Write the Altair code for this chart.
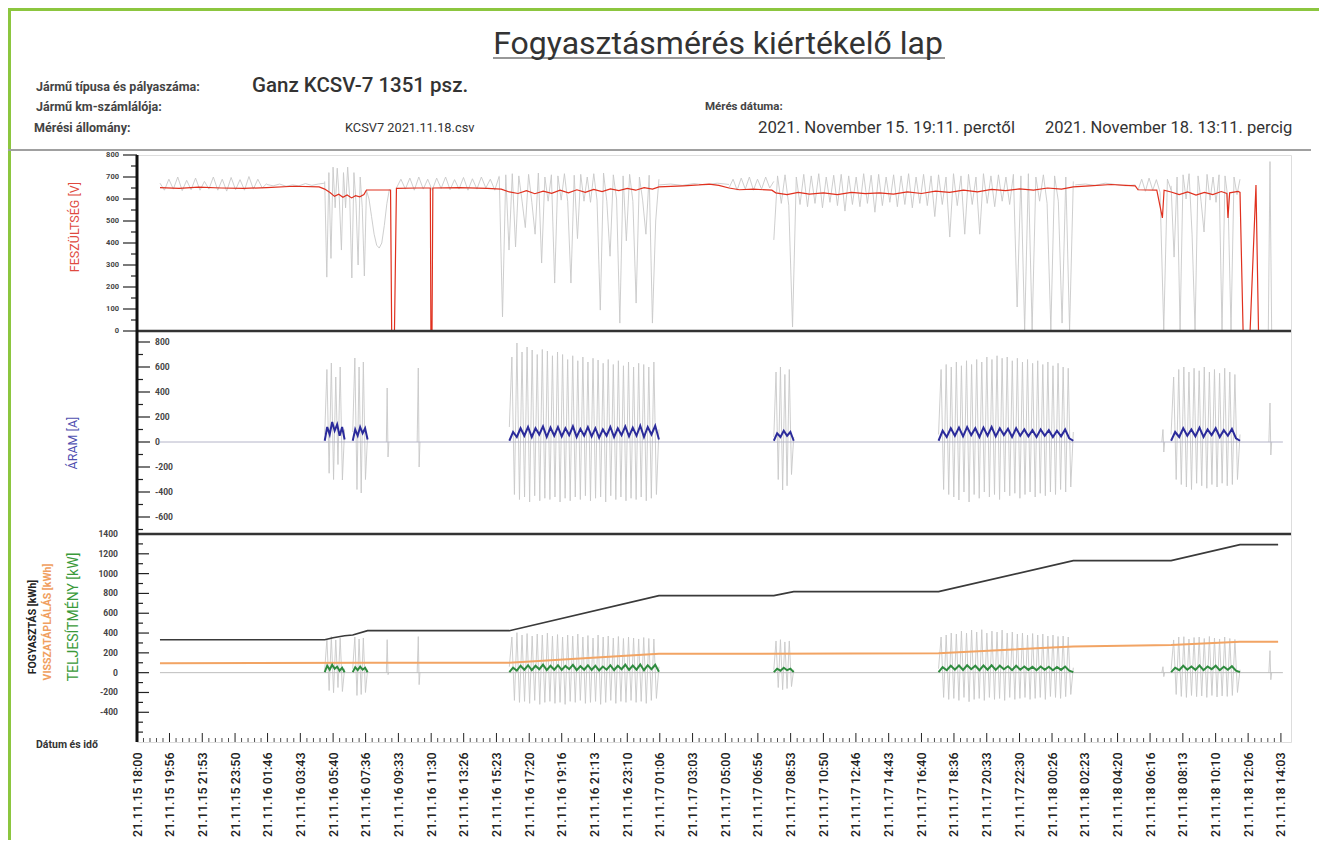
import json
import altair as alt
import numpy as np
import pandas as pd

FONT = "Roboto"
BASE = pd.Timestamp("2021-11-15 18:00")

# ---------------- x axis labels ----------------
X_LABELS = ['21.11.15 18:00', '21.11.15 19:56', '21.11.15 21:53', '21.11.15 23:50',
            '21.11.16 01:46', '21.11.16 03:43', '21.11.16 05:40', '21.11.16 07:36',
            '21.11.16 09:33', '21.11.16 11:30', '21.11.16 13:26', '21.11.16 15:23',
            '21.11.16 17:20', '21.11.16 19:16', '21.11.16 21:13', '21.11.16 23:10',
            '21.11.17 01:06', '21.11.17 03:03', '21.11.17 05:00', '21.11.17 06:56',
            '21.11.17 08:53', '21.11.17 10:50', '21.11.17 12:46', '21.11.17 14:43',
            '21.11.17 16:40', '21.11.17 18:36', '21.11.17 20:33', '21.11.17 22:30',
            '21.11.18 00:26', '21.11.18 02:23', '21.11.18 04:20', '21.11.18 06:16',
            '21.11.18 08:13', '21.11.18 10:10', '21.11.18 12:06', '21.11.18 14:03']
X_TICK_MIN = [int((pd.to_datetime(s, format="%y.%m.%d %H:%M") - BASE).total_seconds() // 60)
              for s in X_LABELS]
X_END = 4119

# ---------------- y tick values ----------------
P1_MAJOR = [0, 100, 200, 300, 400, 500, 600, 700, 800]
P1_MINOR = [50, 150, 250, 350, 450, 550, 650, 750]
P2_MAJOR = [800, 600, 400, 200, 0, -200, -400, -600]
P2_MINOR = [700, 500, 300, 100, -100, -300, -500, -700]
P3_MAJOR = [-400, -200, 0, 200, 400, 600, 800, 1000, 1200, 1400]
P3_MINOR = [-600, -500, -300, -100, 100, 300, 500, 700, 900, 1100, 1300]

# ---------------- voltage (V) ----------------
VOLT_RED_T = [82, 150, 220, 300, 380, 463, 560, 650, 670, 690,
              705, 720, 735, 750, 766, 780, 795, 810, 819, 905,
              909, 919, 926, 1000, 1047, 1049, 1053, 1056, 1150, 1250,
              1300, 1329, 1360, 1390, 1420, 1450, 1480, 1510, 1540, 1570,
              1600, 1630, 1660, 1690, 1720, 1750, 1780, 1810, 1840, 1863,
              1950, 2006, 2042, 2077, 2113, 2150, 2200, 2266, 2280, 2320,
              2360, 2400, 2450, 2500, 2550, 2600, 2650, 2700, 2750, 2800,
              2850, 2900, 2950, 3000, 3050, 3100, 3150, 3200, 3250, 3300,
              3342, 3400, 3477, 3530, 3563, 3573, 3640, 3660, 3666, 3691,
              3720, 3750, 3780, 3810, 3840, 3870, 3890, 3894, 3900, 3930,
              3937, 3948, 3973, 3994, 4003]
VOLT_RED_V = [652, 648, 654, 650, 648, 652, 658, 655, 645, 628,
              612, 622, 608, 618, 605, 615, 610, 620, 641, 641,
              0, 0, 648, 650, 650, 0, 0, 650, 652, 648,
              645, 632, 625, 638, 624, 636, 626, 640, 628, 642,
              630, 644, 634, 646, 638, 648, 640, 652, 645, 655,
              660, 664, 668, 662, 650, 642, 645, 640, 628, 620,
              630, 622, 628, 620, 630, 624, 628, 622, 632, 625,
              636, 630, 640, 632, 644, 638, 646, 640, 650, 645,
              655, 660, 666, 662, 660, 642, 640, 514, 640, 632,
              620, 632, 618, 630, 620, 634, 625, 514, 628, 635,
              630, 0, 0, 664, 0]

VOLT_SEG_START = [82, 463, 670, 819, 926, 1293, 1863, 2113, 2273, 3349, 3573, 3691]
VOLT_SEG_END = [463, 670, 819, 901, 1293, 1863, 2113, 2273, 3342, 3563, 3691, 3937]
VOLT_GRAY_1 = [672, 640, 690, 645, 700, 638, 685, 642, 695, 640, 680, 645, 700, 640, 690, 636,
               698, 642, 688, 640, 702, 645, 690, 650, 670]
VOLT_GRAY_2 = [666, 660, 668, 658, 664, 660, 670, 662, 668, 672]
VOLT_GRAY_A = [680, 245, 720, 330, 745, 560, 740, 600, 368, 720, 560, 745, 600, 241, 720, 580,
               300, 700, 560, 250, 640]
VOLT_GRAY_U = [640, 600, 520, 440, 390, 377, 400, 480, 580, 645]
VOLT_GRAY_3 = [650, 690, 645, 695, 640, 700, 645, 690, 640, 695, 648, 700, 642, 688, 645, 698,
               640, 692, 645, 700, 650, 690, 640, 705]
VOLT_GRAY_B = [700, 64, 710, 368, 715, 382, 705, 590, 470, 712, 585, 440, 718, 309, 700, 590,
               710, 218, 705, 595, 715, 588, 218, 708, 420, 712, 590, 700, 585, 715, 595, 95,
               718, 590, 340, 710, 600, 36, 705, 410, 712, 590, 127, 700, 595, 440, 708, 36,
               500, 690]
VOLT_GRAY_4 = [664, 668, 662, 670, 664, 672, 666]
VOLT_GRAY_5 = [650, 690, 640, 695, 645, 700, 640, 690, 645, 700, 650, 680]
VOLT_GRAY_D = [414, 705, 580, 710, 570, 18, 700, 575, 712, 565, 705, 580, 715, 560, 700, 585,
               708, 570, 712, 545, 705, 575, 700, 565, 715, 580, 708, 540, 712, 570, 700, 585,
               710, 565, 705, 575, 715, 560, 700, 580, 712, 570, 705, 520, 710, 575, 700, 427,
               715, 570, 705, 440, 712, 575, 700, 440, 715, 580, 705, 565, 710, 590, 700, 575,
               712, 109, 705, 5, 715, 5, 700, 590, 710, 580, 5, 705, 590, 36, 700, 5, 680]
VOLT_GRAY_6 = [664, 668, 662, 672, 666, 660, 664]
VOLT_GRAY_7 = [640, 690, 635, 695, 640, 688, 630, 5, 690, 640]
VOLT_GRAY_E = [660, 336, 700, 5, 710, 600, 715, 440, 5, 705, 590, 450, 712, 595, 700, 585,
               710, 5, 705, 600, 5, 700, 620, 690]
VOLT_GRAY_END_T = [4038, 4044, 4050]
VOLT_GRAY_END_V = [0, 770, 0]

# ---------------- current (A) ----------------
ZONE_START = [670, 770, 1329, 2273, 2861, 3691]
ZONE_END = [741, 823, 1863, 2344, 3342, 3937]
CUR_GRAY_A1 = [60, 580, -250, 632, -300, 520, -180, 600, -304, 100]
CUR_GRAY_A2 = [80, 672, -380, 600, -408, 640, -300, 50]
CUR_GRAY_B = [120, 680, -420, 792, -460, 720, -440, 760, -480, 736, -430, 700, -470, 740, -450,
              728, -460, 690, -440, 720, -480, 700, -450, 660, -470, 690, -440, 650, -460, 680,
              -430, 640, -470, 670, -450, 656, -440, 630, -480, 660, -430, 620, -460, 650, -440,
              610, -470, 640, -450, 600, -460, 630, -440, 620, -470, 600, -450, 640, -420, 100]
CUR_GRAY_C = [40, 560, -300, 600, -384, 540, -350, 580, -260, 40]
CUR_GRAY_D = [60, 580, -380, 620, -420, 600, -440, 640, -464, 610, -400, 650, -480, 620, -420,
              660, -450, 640, -400, 680, -440, 660, -420, 690, -460, 670, -400, 680, -430, 650,
              -410, 670, -450, 640, -420, 660, -400, 630, -440, 650, -410, 620, -430, 640, -400,
              610, -420, 630, -380, 600, -400, 590, -360, 80]
CUR_GRAY_E = [60, 520, -300, 580, -340, 600, -360, 560, -380, 590, -330, 570, -350, 600, -370,
              560, -340, 580, -360, 550, -330, 590, -350, 560, -340, 540, -300, 60]
CUR_SPIKE_T = [890, 893, 896, 899, 1000, 1004, 1007, 1010, 3658, 3662, 3665, 3668, 4040, 4044, 4047, 4050]
CUR_SPIKE_V = [0, 432, -120, 0, 0, 592, -200, 0, 0, 100, -80, 0, 0, 312, -104, 0]
CUR_MEAN_A1 = [10, 120, 60, 160, 90, 140, 50, 120, 20]
CUR_MEAN_A2 = [10, 100, 50, 120, 70, 110, 20]
CUR_MEAN_B = [10, 80, 40, 110, 50, 120, 40, 110, 60, 125, 40, 115, 50, 120, 45, 110, 55, 125, 40,
              105, 50, 120, 45, 110, 35, 100, 50, 120, 40, 110, 55, 125, 45, 115, 50, 130, 40, 120,
              60, 130, 20]
CUR_MEAN_C = [10, 70, 40, 90, 50, 80, 10]
CUR_MEAN_D = [10, 90, 40, 110, 50, 115, 45, 120, 55, 110, 40, 115, 50, 120, 45, 110, 55, 105, 40,
              110, 50, 100, 45, 95, 40, 100, 50, 95, 40, 90, 45, 100, 30, 10]
CUR_MEAN_E = [10, 80, 40, 110, 50, 100, 45, 115, 40, 100, 55, 110, 40, 95, 50, 105, 30, 10]
ZERO_T = [82, 4090]

# ---------------- power (kW) / energy (kWh) ----------------
POW_GRAY_A1 = [30, 340, -180, 364, -202, 330, -150, 350, -190, 40]
POW_GRAY_A2 = [40, 360, -230, 340, -220, 350, -200, 30]
POW_GRAY_B = [60, 360, -280, 404, -300, 380, -290, 395, -310, 370, -280, 390, -320, 380, -300,
              400, -290, 370, -310, 385, -300, 360, -320, 380, -290, 370, -300, 390, -280, 360,
              -310, 375, -300, 350, -290, 380, -320, 360, -300, 370, -280, 350, -310, 365, -290,
              345, -300, 360, -280, 350, -300, 340, -290, 355, -310, 345, -280, 340, -260, 60]
POW_GRAY_C = [30, 320, -150, 333, -172, 310, -160, 320, -140, 30]
POW_GRAY_D = [40, 360, -250, 380, -270, 400, -260, 390, -280, 420, -250, 400, -293, 430, -270,
              410, -260, 434, -280, 400, -250, 420, -270, 410, -260, 430, -280, 400, -250, 410,
              -270, 390, -260, 400, -250, 380, -270, 395, -260, 380, -250, 390, -270, 370, -240,
              380, -250, 365, -260, 370, -242, 360, -220, 50]
POW_GRAY_E = [30, 330, -220, 360, -240, 363, -250, 340, -230, 355, -242, 360, -235, 345, -250,
              365, -230, 350, -245, 340, -235, 360, -240, 345, -230, 335, -200, 30]
POW_SPIKE_T = [890, 893, 896, 899, 1000, 1004, 1007, 1010, 3658, 3662, 3665, 3668, 4040, 4044, 4047, 4050]
POW_SPIKE_V = [0, 333, -20, 0, 0, 364, -121, 0, 0, 60, -40, 0, 0, 222, -71, 0]
POW_MEAN_A1 = [5, 70, 30, 80, 40, 60, 20, 50, 5]
POW_MEAN_A2 = [5, 55, 25, 60, 30, 50, 5]
POW_MEAN_B = [5, 50, 20, 70, 30, 75, 25, 70, 35, 80, 25, 70, 30, 75, 28, 68, 35, 78, 25, 65, 30,
              75, 28, 70, 22, 62, 30, 75, 25, 70, 35, 80, 28, 72, 30, 82, 25, 75, 35, 80, 10]
POW_MEAN_C = [5, 40, 20, 50, 25, 40, 5]
POW_MEAN_D = [5, 55, 25, 70, 30, 72, 28, 75, 35, 70, 25, 72, 30, 75, 28, 70, 35, 65, 25, 70, 30,
              62, 28, 60, 25, 62, 30, 60, 25, 58, 28, 62, 20, 5]
POW_MEAN_E = [5, 50, 25, 70, 30, 62, 28, 72, 25, 62, 35, 70, 25, 60, 30, 65, 20, 5]
CONS_T = [82, 670, 700, 741, 770, 823, 1329, 1863, 2273, 2344, 2861, 3342, 3691, 3937, 4073]
CONS_V = [333, 333, 352, 372, 380, 424, 424, 778, 778, 818, 818, 1131, 1131, 1293, 1293]
REGEN_T = [82, 823, 1329, 1863, 2861, 3342, 3691, 3937, 4073]
REGEN_V = [95, 100, 100, 190, 195, 265, 280, 313, 313]

# ---------------- helpers ----------------
W, H = 1154, 587
P1_BOT, P2_BOT = 176, 379


def zig(start, end, vals, seg):
    return pd.DataFrame({"t": np.linspace(start, end, len(vals)), "v": vals, "seg": seg})


def zone_frame(arrays):
    return pd.concat([zig(s, e, a, i) for i, (s, e, a) in enumerate(zip(ZONE_START, ZONE_END, arrays))])


def spikes(ts, vs, offset=100):
    return pd.DataFrame({"t": ts, "v": vs, "seg": [offset + i // 4 for i in range(len(ts))]})


label_expr = "%s[indexof(%s, datum.value)]" % (json.dumps(X_LABELS), json.dumps(X_TICK_MIN))
XS = alt.Scale(domain=[0, X_END], nice=False, zero=False)
XAXIS = alt.Axis(values=X_TICK_MIN, labelExpr=label_expr, labelAngle=270, ticks=False, domain=False,
                 grid=False, labelPadding=10, labelFontSize=12.5, labelColor="#222", labelFont=FONT,
                 labelFontWeight=500, title=None, labelAlign="right", labelBaseline="middle",
                 labelOverlap=False, labelFlush=False)


def X():
    return alt.X("t:Q", scale=XS, axis=XAXIS)


YS1 = alt.Scale(domain=[0, 800], range=[P1_BOT, 0], nice=False, zero=False)
YS2 = alt.Scale(domain=[-736, 888], range=[P2_BOT, P1_BOT], nice=False, zero=False)
YS3 = alt.Scale(domain=[-700, 1400], range=[H, P2_BOT], nice=False, zero=False)


def Y(s):
    return alt.Y("v:Q", scale=s, axis=None)


def line(df, ys, color, w, detail=True):
    enc = dict(x=X(), y=Y(ys))
    if detail:
        enc["detail"] = "seg:N"
    return alt.Chart(df).mark_line(color=color, strokeWidth=w).encode(**enc)


def yticks(vals, ys, x1, x2, w=1.2):
    return alt.Chart(pd.DataFrame({"v": vals})).mark_rule(color="#222", strokeWidth=w).encode(
        x=alt.value(x1), x2=alt.value(x2), y=Y(ys))


def ylabels(vals, ys, x, align, size):
    df = pd.DataFrame({"v": vals, "lab": [str(v) for v in vals]})
    return alt.Chart(df).mark_text(align=align, baseline="middle", fontSize=size, color="#444",
                                   font=FONT, fontWeight="bold").encode(
        x=alt.value(x), y=Y(ys), text="lab:N")


ONE = alt.Data(values=[{}])


def txt(s, x, y, size, color="#333", weight="normal", align="left", angle=0):
    return alt.Chart(ONE).mark_text(text=s, fontSize=size, color=color, fontWeight=weight, align=align,
                                    baseline="middle", angle=angle, font=FONT).encode(
        x=alt.value(x), y=alt.value(y))


def hline(x1, x2, y, color, w):
    return alt.Chart(ONE).mark_rule(color=color, strokeWidth=w).encode(
        x=alt.value(x1), x2=alt.value(x2), y=alt.value(y))


def vline(x, y1, y2, color, w):
    return alt.Chart(ONE).mark_rule(color=color, strokeWidth=w).encode(
        x=alt.value(x), y=alt.value(y1), y2=alt.value(y2))


# ---------------- panel 1: voltage ----------------
volt_arrays = [VOLT_GRAY_1, VOLT_GRAY_2, VOLT_GRAY_A, VOLT_GRAY_U, VOLT_GRAY_3, VOLT_GRAY_B,
               VOLT_GRAY_4, VOLT_GRAY_5, VOLT_GRAY_D, VOLT_GRAY_6, VOLT_GRAY_7, VOLT_GRAY_E]
volt_gray = pd.concat([zig(s, e, a, i) for i, (s, e, a) in
                       enumerate(zip(VOLT_SEG_START, VOLT_SEG_END, volt_arrays))]
                      + [pd.DataFrame({"t": VOLT_GRAY_END_T, "v": VOLT_GRAY_END_V, "seg": 99})])
volt_red = pd.DataFrame({"t": VOLT_RED_T, "v": VOLT_RED_V, "seg": 0})

panel1 = alt.layer(
    line(volt_gray, YS1, "#c8c8c8", 0.9),
    line(volt_red, YS1, "#e0301e", 1.2),
    yticks(P1_MAJOR, YS1, -14, 0),
    yticks(P1_MINOR, YS1, -6, 0),
    ylabels(P1_MAJOR, YS1, -18, "right", 7.5),
)

# ---------------- panel 2: current ----------------
cur_gray = pd.concat([zone_frame([CUR_GRAY_A1, CUR_GRAY_A2, CUR_GRAY_B, CUR_GRAY_C, CUR_GRAY_D, CUR_GRAY_E]),
                      spikes(CUR_SPIKE_T, CUR_SPIKE_V)])
cur_mean = zone_frame([CUR_MEAN_A1, CUR_MEAN_A2, CUR_MEAN_B, CUR_MEAN_C, CUR_MEAN_D, CUR_MEAN_E])
zero = pd.DataFrame({"t": ZERO_T, "v": [0, 0], "seg": 0})

panel2 = alt.layer(
    line(cur_gray, YS2, "#c8c8c8", 0.9),
    line(zero, YS2, "#b4b4c8", 1.0),
    line(cur_mean, YS2, "#2b2b9b", 2.0),
    yticks(P2_MAJOR, YS2, 0, 13),
    yticks(P2_MINOR, YS2, 0, 6),
    ylabels(P2_MAJOR, YS2, 18, "left", 8.5),
)

# ---------------- panel 3: power & energy ----------------
pow_gray = pd.concat([zone_frame([POW_GRAY_A1, POW_GRAY_A2, POW_GRAY_B, POW_GRAY_C, POW_GRAY_D, POW_GRAY_E]),
                      spikes(POW_SPIKE_T, POW_SPIKE_V)])
pow_mean = zone_frame([POW_MEAN_A1, POW_MEAN_A2, POW_MEAN_B, POW_MEAN_C, POW_MEAN_D, POW_MEAN_E])
cons = pd.DataFrame({"t": CONS_T, "v": CONS_V, "seg": 0})
regen = pd.DataFrame({"t": REGEN_T, "v": REGEN_V, "seg": 0})

panel3 = alt.layer(
    line(pow_gray, YS3, "#c8c8c8", 0.9),
    line(zero, YS3, "#bdbdbd", 1.0),
    line(regen, YS3, "#f2a464", 2.0),
    line(cons, YS3, "#3a3a3a", 1.6),
    line(pow_mean, YS3, "#2e8b3e", 2.0),
    yticks(P3_MAJOR, YS3, 0, 12),
    yticks(P3_MINOR, YS3, 0, 6),
    ylabels(P3_MAJOR, YS3, -19, "right", 8.5),
)

# ---------------- x ticks (inside, pointing up) ----------------
x_minor = []
for a, b in zip(X_TICK_MIN[:-1], X_TICK_MIN[1:]):
    x_minor += [a + k * (b - a) / 5 for k in range(1, 5)]
xt_major = alt.Chart(pd.DataFrame({"t": X_TICK_MIN})).mark_rule(color="#222", strokeWidth=1).encode(
    x=X(), y=alt.value(H - 9), y2=alt.value(H))
xt_minor = alt.Chart(pd.DataFrame({"t": x_minor})).mark_rule(color="#222", strokeWidth=0.8).encode(
    x=X(), y=alt.value(H - 4), y2=alt.value(H))

# ---------------- decorations & header ----------------
deco = [
    hline(-129, W + 30, -145.5, "#8cc63f", 3),
    vline(-127.5, -147, H + 98, "#8cc63f", 3),
    hline(-129, W + 20, -5, "#a0a0a0", 2),
    hline(0, W, P1_BOT, "#333", 2.5),
    hline(0, W, P2_BOT, "#333", 2.5),
    vline(0, 0, H, "#111", 3),
    txt("Fogyasztásmérés kiértékelő lap", 581, -111, 32, "#333", align="center"),
    hline(356, 808, -97, "#333", 1.2),
    txt("Jármű típusa és pályaszáma:", -101, -68, 12.5, "#444", "bold"),
    txt("Ganz KCSV-7 1351 psz.", 115, -69, 20.5, "#333", 500),
    txt("Jármű km-számlálója:", -101, -48, 12.5, "#444", "bold"),
    txt("Mérési állomány:", -103, -27, 12.5, "#444", "bold"),
    txt("KCSV7 2021.11.18.csv", 208, -27, 12.8, "#333"),
    txt("Mérés dátuma:", 568, -48, 11.5, "#444", "bold"),
    txt("2021. November 15. 19:11. perctől", 621, -27, 16.8, "#333"),
    txt("2021. November 18. 13:11. percig", 908, -27, 16.5, "#333"),
    txt("FESZÜLTSÉG [V]", -62, 72, 12.5, "#e04a3f", align="center", angle=270),
    txt("ÁRAM [A]", -64, 288, 12.5, "#5050b0", align="center", angle=270),
    txt("FOGYASZTÁS [kWh]", -104, 472, 10.5, "#222", "bold", align="center", angle=270),
    txt("VISSZATÁPLÁLÁS [kWh]", -89, 467, 10.5, "#f0a060", "bold", align="center", angle=270),
    txt("TELJESÍTMÉNY [kW]", -63, 462, 14, "#3a9a3a", align="center", angle=270),
    txt("Dátum és idő", -101, 590, 10.5, "#333", "bold"),
]

chart = alt.layer(panel1, panel2, panel3, xt_major, xt_minor, *deco).resolve_scale(
    y="independent"
).properties(
    width=W, height=H,
    autosize=alt.AutoSizeParams(type="none"),
    padding={"left": 129, "top": 147, "right": 28, "bottom": 98},
).configure_view(stroke="#222", strokeWidth=2).configure(background="white")

chart.save("out.html", embed_options={"renderer": "svg", "actions": False})
